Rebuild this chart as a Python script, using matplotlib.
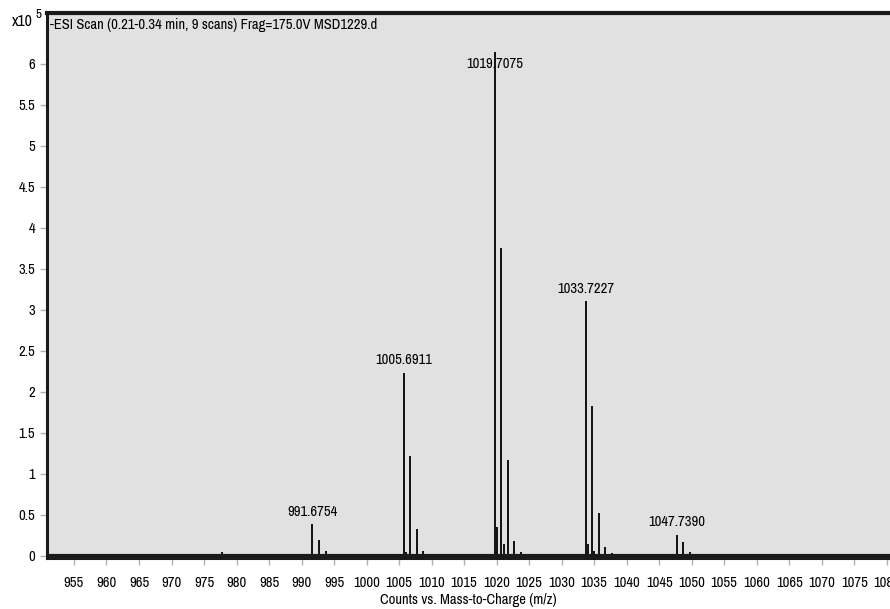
import matplotlib
matplotlib.use("Agg")
import matplotlib.pyplot as plt
from matplotlib import font_manager

# pick a narrow face if one is installed
names = sorted({f.name for f in font_manager.fontManager.ttflist})
narrow = [n for n in names if 'Narrow' in n or 'Condensed' in n]
plt.rcParams['font.family'] = narrow[:1] + ['Liberation Sans', 'DejaVu Sans']
fs = 10.5 if narrow else 9.5

# peak list (m/z, counts in units of 1e5)
mz = [977.8, 978.8,
      991.68, 992.68, 993.7, 994.7,
      1005.69, 1006.0, 1006.69, 1007.7, 1008.7,
      1019.71, 1020.05, 1020.71, 1021.1, 1021.71, 1022.7, 1023.7,
      1033.72, 1034.05, 1034.72, 1035.05, 1035.72, 1036.72, 1037.7,
      1047.74, 1048.74, 1049.7, 1050.7]
counts = [0.04, 0.02,
          0.38, 0.19, 0.05, 0.02,
          2.23, 0.04, 1.22, 0.32, 0.05,
          6.15, 0.35, 3.75, 0.14, 1.17, 0.18, 0.04,
          3.10, 0.14, 1.83, 0.06, 0.52, 0.10, 0.03,
          0.25, 0.17, 0.04, 0.02]

label_mz = [991.6754, 1005.6911, 1019.7075, 1033.7227, 1047.7390]
label_h = [0.38, 2.23, 6.15, 3.10, 0.25]

xticks = list(range(955, 1081, 5))
yticks = [0, 0.5, 1, 1.5, 2, 2.5, 3, 3.5, 4, 4.5, 5, 5.5, 6]

fig = plt.figure(figsize=(8.9, 6.09), dpi=100)
ax = fig.add_axes([47/890, 1 - 558/609, 1 - 47/890, (558 - 13)/609])
ax.set_facecolor('#e1e1e1')

ax.vlines(mz, 0, counts, color='black', linewidth=1.3)
ax.axhline(0, color='#1a1a1a', linewidth=3)

for m, h in zip(label_mz, label_h):
    ax.annotate(f"{m:.4f}", (m, min(h, 5.85)), xytext=(0, 4), textcoords='offset points',
                ha='center', va='bottom', fontsize=fs)

ax.set_xlim(950.85, 1080.5)
ax.set_ylim(-0.03, 6.62)
ax.set_xticks(xticks)
ax.set_yticks(yticks)
ax.set_yticklabels([f"{v:g}" for v in yticks])
ax.tick_params(axis='both', colors='#b0b0b0', labelcolor='black', labelsize=fs, length=5, width=1)
ax.tick_params(axis='x', pad=8)

for s in ['left', 'top', 'bottom']:
    ax.spines[s].set_color('#1a1a1a')
ax.spines['left'].set_linewidth(2.2)
ax.spines['top'].set_linewidth(3)
ax.spines['bottom'].set_linewidth(2.2)
ax.spines['right'].set_visible(False)

ax.text(0.004, 0.99, "-ESI Scan (0.21-0.34 min, 9 scans) Frag=175.0V MSD1229.d",
        transform=ax.transAxes, ha='left', va='top', fontsize=fs)

fig.text(12/890, 1 - 21/609, "x10", ha='left', va='center', fontsize=fs + 1)
fig.text(35/890, 1 - 15/609, "5", ha='left', va='center', fontsize=fs * 0.9)
fig.text(468/890, 1 - 600/609, "Counts vs. Mass-to-Charge (m/z)", ha='center', va='center', fontsize=fs)

fig.savefig("out.png", dpi=100)
